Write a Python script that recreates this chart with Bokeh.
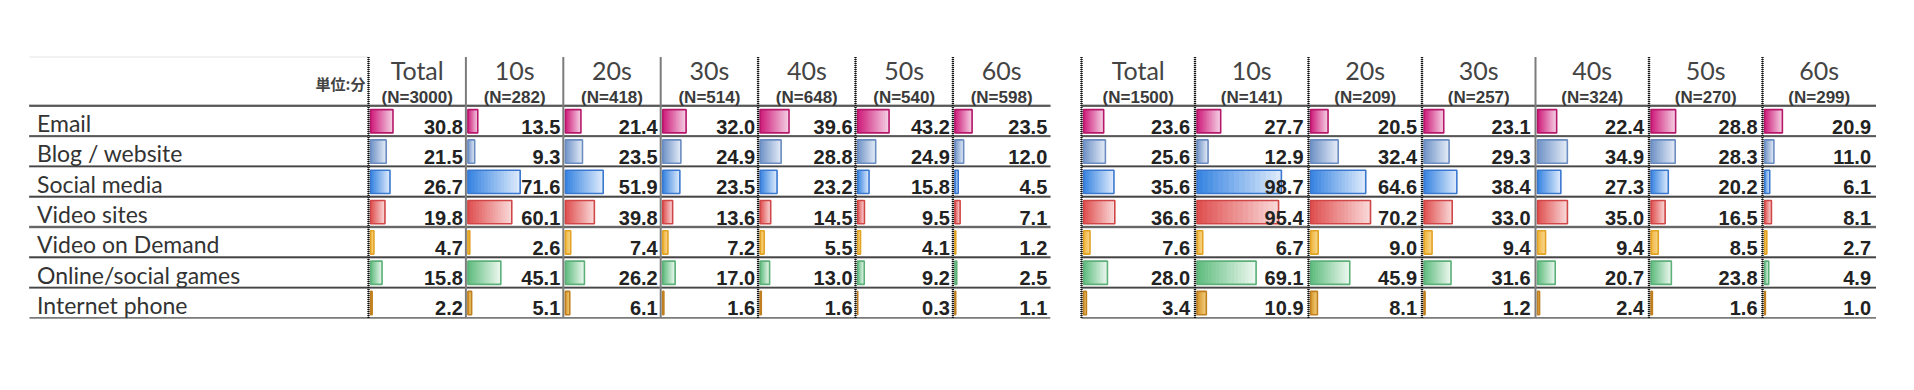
from bokeh.plotting import figure
from bokeh.models import Range1d
from bokeh.core.properties import value
from bokeh.embed import file_html
from bokeh.resources import INLINE

# ---------------- data ----------------
categories = ["Email", "Blog / website", "Social media", "Video sites",
              "Video on Demand", "Online/social games", "Internet phone"]
groups = ["Total", "10s", "20s", "30s", "40s", "50s", "60s"]
unit_label = "単位:分"

n_left = [3000, 282, 418, 514, 648, 540, 598]
n_right = [1500, 141, 209, 257, 324, 270, 299]

# left table (values per age column, rows in category order)
left_total = [30.8, 21.5, 26.7, 19.8, 4.7, 15.8, 2.2]
left_10s = [13.5, 9.3, 71.6, 60.1, 2.6, 45.1, 5.1]
left_20s = [21.4, 23.5, 51.9, 39.8, 7.4, 26.2, 6.1]
left_30s = [32.0, 24.9, 23.5, 13.6, 7.2, 17.0, 1.6]
left_40s = [39.6, 28.8, 23.2, 14.5, 5.5, 13.0, 1.6]
left_50s = [43.2, 24.9, 15.8, 9.5, 4.1, 9.2, 0.3]
left_60s = [23.5, 12.0, 4.5, 7.1, 1.2, 2.5, 1.1]

# right table
right_total = [23.6, 25.6, 35.6, 36.6, 7.6, 28.0, 3.4]
right_10s = [27.7, 12.9, 98.7, 95.4, 6.7, 69.1, 10.9]
right_20s = [20.5, 32.4, 64.6, 70.2, 9.0, 45.9, 8.1]
right_30s = [23.1, 29.3, 38.4, 33.0, 9.4, 31.6, 1.2]
right_40s = [22.4, 34.9, 27.3, 35.0, 9.4, 20.7, 2.4]
right_50s = [28.8, 28.3, 20.2, 16.5, 8.5, 23.8, 1.6]
right_60s = [20.9, 11.0, 6.1, 8.1, 2.7, 4.9, 1.0]

left_cols = [left_total, left_10s, left_20s, left_30s, left_40s, left_50s, left_60s]
right_cols = [right_total, right_10s, right_20s, right_30s, right_40s, right_50s, right_60s]

# ---------------- styles / layout ----------------
bar_dark = ["#cf1f7c", "#7395c8", "#3a86e2", "#e05252", "#f0b53c", "#62bd80", "#d6952a"]
bar_light = ["#f4cde2", "#e2eaf6", "#dbe9fb", "#f9d6d6", "#f8d890", "#eaf7ee", "#f2cf80"]
bar_edge = ["#b5176a", "#6a8cc0", "#3a78d0", "#d04646", "#e2a224", "#5cb078", "#c08020"]

FONT_LABEL = "Lato"
FONT_NUM = "Liberation Sans"

W, H = 1914, 390
p = figure(width=W, height=H, x_range=Range1d(0, W), y_range=Range1d(H, 0),
           x_axis_type=None, y_axis_type=None, toolbar_location=None,
           output_backend="svg", min_border=0)
p.outline_line_color = None
p.grid.visible = False
p.background_fill_color = "white"
p.border_fill_color = "white"

row_top = 105.3
row_h = 30.3
head_top = 56.5
nrows = len(categories)
row_edges = [row_top + i * row_h for i in range(nrows + 1)]

tables = [
    dict(x0=368.0, cw=97.4, scale=0.73, cols=left_cols, ns=n_left, lx0=29.0,
         vstyle=["dot", "solid", "solid", "solid", "dot", "dot", "dot"], vmargin=3.0),
    dict(x0=1081.0, cw=113.5, scale=0.855, cols=right_cols, ns=n_right, lx0=1081.0,
         vstyle=["dot", "dot", "dot", "dot", "solid", "dot", "dot"], vmargin=5.0),
]

NSLICE = 16


def mix(c1, c2, t):
    a = [int(c1[i:i + 2], 16) for i in (1, 3, 5)]
    b = [int(c2[i:i + 2], 16) for i in (1, 3, 5)]
    return "#%02x%02x%02x" % tuple(int(round(a[k] + (b[k] - a[k]) * t)) for k in range(3))


# faint top line above the category column
p.segment(x0=[29], y0=[head_top], x1=[368], y1=[head_top], line_color="#e4e4e4", line_width=1)

for tb in tables:
    x0, cw, sc = tb["x0"], tb["cw"], tb["scale"]
    ncol = len(tb["cols"])
    xend = x0 + ncol * cw
    # bars with gradient (overlapping slices, later ones drawn on top)
    sl_l, sl_r, sl_t, sl_b, sl_c = [], [], [], [], []
    ol_l, ol_r, ol_t, ol_b, ol_c = [], [], [], [], []
    for ci, col in enumerate(tb["cols"]):
        cl = x0 + ci * cw + 2.0
        for ri, v in enumerate(col):
            top = row_edges[ri] + 3.8
            bot = row_edges[ri + 1] - 3.2
            w = v * sc
            for k in range(NSLICE):
                sl_l.append(cl + w * k / NSLICE)
                sl_r.append(cl + w)
                sl_t.append(top)
                sl_b.append(bot)
                sl_c.append(mix(bar_dark[ri], bar_light[ri], k / (NSLICE - 1)))
            ol_l.append(cl)
            ol_r.append(cl + w)
            ol_t.append(top)
            ol_b.append(bot)
            ol_c.append(bar_edge[ri])
    p.quad(left=sl_l, right=sl_r, top=sl_t, bottom=sl_b, fill_color=sl_c, line_color=None)
    p.quad(left=ol_l, right=ol_r, top=ol_t, bottom=ol_b, fill_color=None,
           line_color=ol_c, line_width=1.6)

    # horizontal separators (dotted), header bottom + row separators
    ys = row_edges[:-1]
    p.segment(x0=[tb["lx0"]] * len(ys), y0=ys, x1=[xend] * len(ys), y1=ys,
              line_color="#777777", line_width=1.2)
    p.segment(x0=[tb["lx0"]] * len(ys), y0=ys, x1=[xend] * len(ys), y1=ys,
              line_color="#151515", line_width=2.4, line_dash="1 1")
    # bottom line
    p.segment(x0=[tb["lx0"]], y0=[row_edges[-1]], x1=[xend], y1=[row_edges[-1]],
              line_color="#7a7a7a", line_width=1.6)

    # vertical column lines
    for ci in range(ncol):
        xv = x0 + ci * cw
        if tb["vstyle"][ci] == "dot":
            p.segment(x0=[xv], y0=[head_top], x1=[xv], y1=[row_edges[-1]],
                      line_color="#909090", line_width=1.2)
            p.segment(x0=[xv], y0=[head_top], x1=[xv], y1=[row_edges[-1]],
                      line_color="#151515", line_width=2.4, line_dash="1 1")
        else:
            p.segment(x0=[xv], y0=[head_top], x1=[xv], y1=[row_edges[-1]],
                      line_color="#7c7c7c", line_width=2.0)

    # header texts
    cx = [x0 + (ci + 0.5) * cw for ci in range(ncol)]
    p.text(x=cx, y=[69.5] * ncol, text=groups, text_align="center",
           text_baseline="alphabetic", text_font=value(FONT_LABEL),
           text_font_size="25px", text_color="#444444")
    p.text(x=cx, y=[96.5] * ncol, text=["(N=%d)" % n for n in tb["ns"]],
           text_align="center", text_baseline="alphabetic", text_font=value(FONT_NUM),
           text_font_size="17px", text_font_style="bold", text_color="#3a3a3a")

    # value labels
    vx, vy, vt = [], [], []
    for ci, col in enumerate(tb["cols"]):
        for ri, v in enumerate(col):
            vx.append(x0 + (ci + 1) * cw - tb["vmargin"])
            vy.append(row_edges[ri + 1] - 9.5)
            vt.append("%.1f" % v)
    p.text(x=vx, y=vy, text=vt, text_align="right", text_baseline="alphabetic",
           text_font=value(FONT_NUM), text_font_size="20px", text_font_style="bold",
           text_color="#222222")

# category labels
p.text(x=[36.5] * nrows, y=[row_edges[i + 1] - 13.0 for i in range(nrows)], text=categories,
       text_align="left", text_baseline="alphabetic", text_font=value(FONT_LABEL),
       text_font_size="23px", text_color="#333333")

# unit label
p.text(x=[365], y=[83], text=[unit_label], text_align="right", text_baseline="middle",
       text_font=value("Noto Sans CJK JP"), text_font_size="15px", text_font_style="bold",
       text_color="#444444")

open("out.html", "w").write(file_html(p, INLINE))
